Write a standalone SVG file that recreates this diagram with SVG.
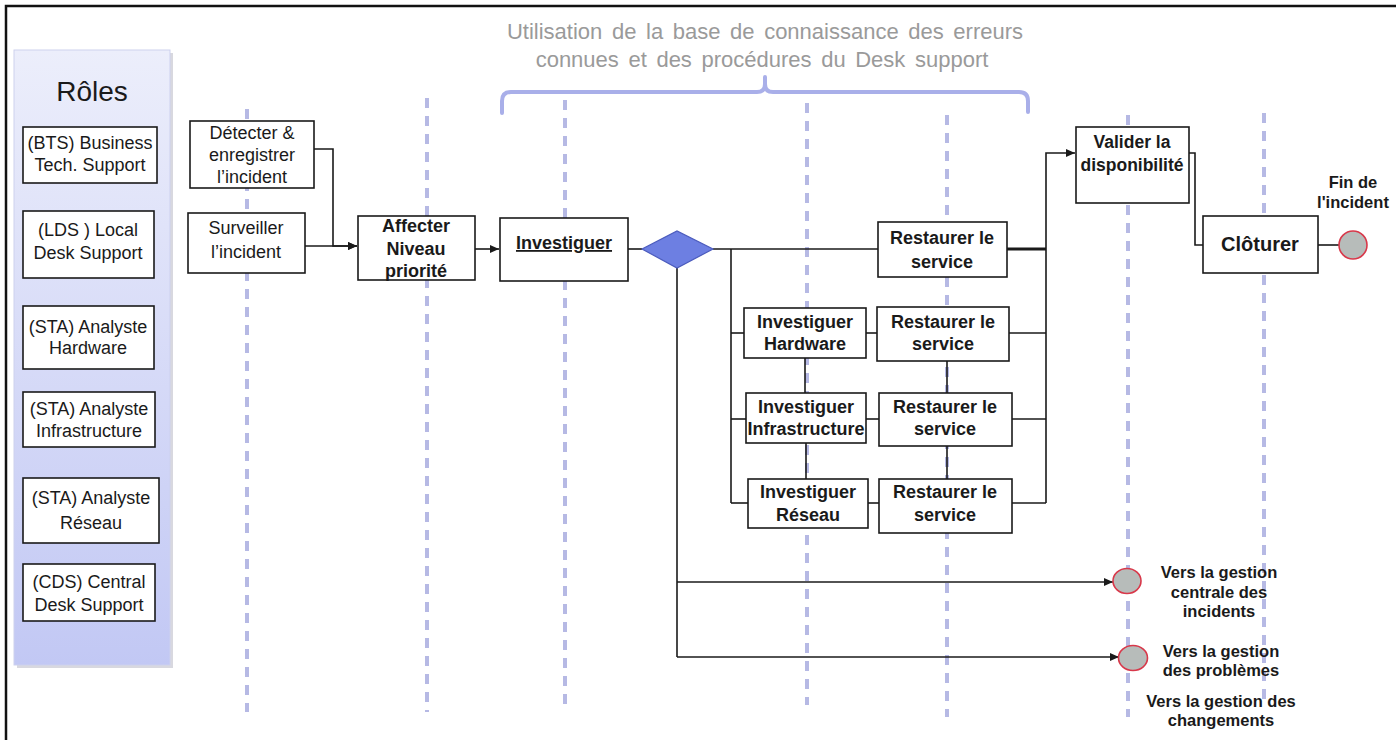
<svg xmlns="http://www.w3.org/2000/svg" width="1396" height="740" viewBox="0 0 1396 740">
<style>
  .bx { fill:#ffffff; stroke:#1a1a1a; stroke-width:1.6; }
  .t { font-family:"Liberation Sans", Arial, sans-serif; font-size:18px; fill:#1a1a1a; text-anchor:middle; }
  .b { font-weight:bold; }
  .dash { stroke:#b6b9e4; stroke-width:4; stroke-dasharray:10 8; fill:none; }
  .cn { stroke:#1a1a1a; stroke-width:1.6; fill:none; }
  .end { fill:#b7bcba; stroke:#d8384a; stroke-width:1.6; }
  .hd { font-family:"Liberation Sans", Arial, sans-serif; font-size:22px; fill:#9a9a9a; text-anchor:middle; word-spacing:3.5px; }
  .sm { font-family:"Liberation Sans", Arial, sans-serif; font-size:16.5px; font-weight:bold; fill:#1a1a1a; text-anchor:middle; }
</style>
<defs>
  <linearGradient id="panel" x1="0" y1="0" x2="0" y2="1">
    <stop offset="0" stop-color="#eceefb"/>
    <stop offset="1" stop-color="#c2c8f4"/>
  </linearGradient>
  <marker id="ar" markerWidth="9" markerHeight="8" refX="9" refY="4" orient="auto" markerUnits="userSpaceOnUse">
    <path d="M0,0 L9,4 L0,8 z" fill="#1a1a1a"/>
  </marker>
</defs>
<rect width="1396" height="740" fill="#ffffff"/>
<polyline points="6,740 6,6 1396,6" fill="none" stroke="#111" stroke-width="2.5"/>

<!-- header -->
<g id="header">
  <text class="hd" x="765" y="39">Utilisation de la base de connaissance des erreurs</text>
  <text class="hd" x="762" y="67">connues et des procédures du Desk support</text>
  <path d="M502,113 L502,101 Q502,92 511,92 L757,92 Q765,92 765,84 L765,77 M765,84 Q765,92 773,92 L1019,92 Q1028,92 1028,101 L1028,112" fill="none" stroke="#a9afe9" stroke-width="4" stroke-linecap="round"/>
</g>

<!-- swimlane dashed lines -->
<g id="lanes">
  <line class="dash" x1="247" y1="109" x2="247" y2="712"/>
  <line class="dash" x1="427" y1="98" x2="427" y2="712"/>
  <line class="dash" x1="565" y1="100" x2="565" y2="712"/>
  <line class="dash" x1="807" y1="103" x2="807" y2="705"/>
  <line class="dash" x1="947" y1="115" x2="947" y2="717"/>
  <line class="dash" x1="1128" y1="115" x2="1128" y2="717"/>
  <line class="dash" x1="1264" y1="113" x2="1264" y2="700"/>
</g>

<!-- roles panel -->
<g id="roles">
  <rect x="17" y="53" width="156" height="615" fill="#b8b8c4" opacity="0.55"/>
  <rect x="14" y="50" width="156" height="615" fill="url(#panel)" stroke="#cdd1ee" stroke-width="1"/>
  <text class="t" x="92" y="101" style="font-size:28px">Rôles</text>
  <g id="role-bts"><rect class="bx" x="23" y="127" width="134" height="56"/>
    <text class="t" x="90" y="149">(BTS) Business</text><text class="t" x="90" y="171">Tech. Support</text></g>
  <g id="role-lds"><rect class="bx" x="23" y="211" width="131" height="67"/>
    <text class="t" x="88" y="236">(LDS ) Local</text><text class="t" x="88" y="259">Desk Support</text></g>
  <g id="role-sta-hw"><rect class="bx" x="23" y="306" width="131" height="63"/>
    <text class="t" x="88" y="333">(STA) Analyste</text><text class="t" x="88" y="354">Hardware</text></g>
  <g id="role-sta-infra"><rect class="bx" x="23" y="392" width="132" height="55"/>
    <text class="t" x="89" y="415">(STA) Analyste</text><text class="t" x="89" y="437">Infrastructure</text></g>
  <g id="role-sta-res"><rect class="bx" x="23" y="478" width="136" height="65"/>
    <text class="t" x="91" y="504">(STA) Analyste</text><text class="t" x="91" y="529">Réseau</text></g>
  <g id="role-cds"><rect class="bx" x="23" y="564" width="132" height="57"/>
    <text class="t" x="89" y="588">(CDS) Central</text><text class="t" x="89" y="611">Desk Support</text></g>
</g>

<!-- connectors -->
<g id="connectors">
  <polyline class="cn" points="314,149 333,149 333,246 357,246" marker-end="url(#ar)"/>
  <line class="cn" x1="305" y1="246" x2="357" y2="246" marker-end="url(#ar)"/>
  <line class="cn" x1="475" y1="249" x2="499" y2="249" marker-end="url(#ar)"/>
  <line class="cn" x1="628" y1="249" x2="642" y2="249"/>
  <line class="cn" x1="713" y1="249" x2="878" y2="249"/>
  <line class="cn" x1="731" y1="249" x2="731" y2="503"/>
  <line class="cn" x1="731" y1="333" x2="744" y2="333"/>
  <line class="cn" x1="731" y1="419" x2="746" y2="419"/>
  <line class="cn" x1="731" y1="503" x2="748" y2="503"/>
  <line class="cn" x1="866" y1="333" x2="877" y2="333"/>
  <line class="cn" x1="866" y1="419" x2="879" y2="419"/>
  <line class="cn" x1="868" y1="503" x2="879" y2="503"/>
  <line class="cn" x1="805" y1="358" x2="805" y2="393"/>
  <line class="cn" x1="806" y1="443" x2="806" y2="479"/>
  <line class="cn" x1="947" y1="361" x2="947" y2="393"/>
  <line class="cn" x1="947" y1="446" x2="947" y2="479"/>
  <line class="cn" x1="1007" y1="249" x2="1046" y2="249" style="stroke-width:3"/>
  <line class="cn" x1="1009" y1="333" x2="1046" y2="333"/>
  <line class="cn" x1="1012" y1="419" x2="1046" y2="419"/>
  <line class="cn" x1="1012" y1="503" x2="1046" y2="503"/>
  <polyline class="cn" points="1046,503 1046,153 1075,153" marker-end="url(#ar)"/>
  <polyline class="cn" points="1189,153 1195,153 1195,245 1203,245"/>
  <line class="cn" x1="1318" y1="245" x2="1339" y2="245"/>
  <line class="cn" x1="677" y1="268" x2="677" y2="657"/>
  <line class="cn" x1="677" y1="582" x2="1113" y2="582" marker-end="url(#ar)"/>
  <line class="cn" x1="677" y1="657" x2="1119" y2="657" marker-end="url(#ar)"/>
</g>

<!-- process nodes -->
<g id="detecter"><rect class="bx" x="190" y="121" width="124" height="67"/>
  <text class="t" x="252" y="139">Détecter &amp;</text><text class="t" x="252" y="161">enregistrer</text><text class="t" x="252" y="183">l’incident</text></g>
<g id="surveiller"><rect class="bx" x="188" y="213" width="117" height="60"/>
  <text class="t" x="246" y="234">Surveiller</text><text class="t" x="246" y="258">l’incident</text></g>
<g id="affecter"><rect class="bx" x="358" y="216" width="117" height="64"/>
  <text class="t b" x="416" y="232">Affecter</text><text class="t b" x="416" y="255">Niveau</text><text class="t b" x="416" y="277">priorité</text></g>
<g id="investiguer"><rect class="bx" x="500" y="218" width="128" height="63"/>
  <text class="t b" x="564" y="249" text-decoration="underline">Investiguer</text></g>
<g id="decision"><polygon points="642,249 677,231 713,249 677,268" fill="#6d7fe2" stroke="#4b5bbd" stroke-width="1.2"/></g>
<g id="restaurer1"><rect class="bx" x="878" y="222" width="129" height="55"/>
  <text class="t b" x="942" y="244">Restaurer le</text><text class="t b" x="942" y="268">service</text></g>
<g id="inv-hardware"><rect class="bx" x="744" y="308" width="122" height="50"/>
  <text class="t b" x="805" y="328">Investiguer</text><text class="t b" x="805" y="350">Hardware</text></g>
<g id="restaurer2"><rect class="bx" x="877" y="307" width="132" height="54"/>
  <text class="t b" x="943" y="328">Restaurer le</text><text class="t b" x="943" y="350">service</text></g>
<g id="inv-infra"><rect class="bx" x="746" y="393" width="120" height="50"/>
  <text class="t b" x="806" y="413">Investiguer</text><text class="t b" x="806" y="435">Infrastructure</text></g>
<g id="restaurer3"><rect class="bx" x="879" y="393" width="133" height="53"/>
  <text class="t b" x="945" y="413">Restaurer le</text><text class="t b" x="945" y="435">service</text></g>
<g id="inv-reseau"><rect class="bx" x="748" y="479" width="120" height="49"/>
  <text class="t b" x="808" y="498">Investiguer</text><text class="t b" x="808" y="521">Réseau</text></g>
<g id="restaurer4"><rect class="bx" x="879" y="479" width="133" height="54"/>
  <text class="t b" x="945" y="498">Restaurer le</text><text class="t b" x="945" y="521">service</text></g>
<g id="valider"><rect class="bx" x="1076" y="127" width="113" height="76"/>
  <text class="t b" x="1132" y="148" style="font-size:17.5px">Valider la</text><text class="t b" x="1132" y="171" style="font-size:17.5px">disponibilité</text></g>
<g id="cloturer"><rect class="bx" x="1203" y="216" width="115" height="57"/>
  <text class="t b" x="1260" y="251" style="font-size:20px">Clôturer</text></g>
<g id="fin"><circle class="end" cx="1353" cy="245" r="14"/>
  <text class="sm" x="1353" y="188">Fin de</text><text class="sm" x="1353" y="208">l'incident</text></g>
<g id="vers-incidents"><ellipse class="end" cx="1127" cy="581" rx="14" ry="12.5"/>
  <text class="sm" x="1219" y="578">Vers la gestion</text><text class="sm" x="1219" y="598">centrale des</text><text class="sm" x="1219" y="617">incidents</text></g>
<g id="vers-problemes"><ellipse class="end" cx="1133" cy="658" rx="14.5" ry="12.5"/>
  <text class="sm" x="1221" y="657">Vers la gestion</text><text class="sm" x="1221" y="676">des problèmes</text></g>
<g id="vers-changements">
  <text class="sm" x="1221" y="707">Vers la gestion des</text><text class="sm" x="1221" y="726">changements</text></g>
</svg>
